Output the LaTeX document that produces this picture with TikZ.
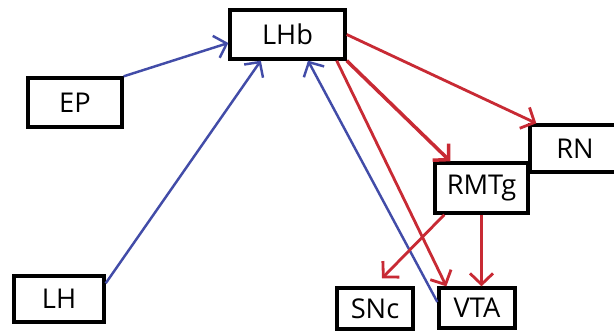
\documentclass[tikz,border=0pt]{standalone}
\usepackage{fontspec}
\setmainfont{Open Sans}
\usepackage{tikz}
\usetikzlibrary{arrows.meta}
\definecolor{inhblue}{RGB}{66,76,168}
\definecolor{excred}{RGB}{200,42,52}

\begin{document}
\begin{tikzpicture}[
    box/.style={draw, line width=1.9pt, fill=white, inner sep=0pt,
                font=\fontsize{15.5}{18}\selectfont},
    tip/.style={-{Straight Barb[length=2.2mm,width=4.6mm]}},
    inh/.style={tip, inhblue, line width=1.4pt},
    exc/.style={tip, excred, line width=1.6pt}
]
    % Cadre
    \clip (0, 0) rectangle (12.28, 6.62);
    \fill[white] (0, 0) rectangle (12.28, 6.62);

    % Boites
    \node[box, minimum width=2.30cm, minimum height=0.98cm] (LHb) at (5.75, 5.93) {LHb};
    \node[box, minimum width=1.88cm, minimum height=0.98cm] (EP) at (1.50, 4.57) {EP};
    \node[box, minimum width=1.80cm, minimum height=0.92cm] (LH) at (1.18, 0.64) {LH};
    \node[box, minimum width=1.80cm, minimum height=0.94cm] (RN) at (11.50, 3.65) {RN};
    \node[box, minimum width=1.86cm, minimum height=1.00cm] (RMTg) at (9.63, 2.86) {RMTg};
    \node[box, minimum width=1.52cm, minimum height=0.82cm] (SNc) at (7.50, 0.45) {SNc};
    \node[box, minimum width=1.52cm, minimum height=0.80cm] (VTA) at (9.54, 0.46) {VTA};

    % Entrees vers LHb
    \draw[inh] (EP.north east) -- ([yshift=-0.17cm]LHb.west);
    \draw[inh] ([yshift=-0.18cm]LH.north east) -- ([xshift=0.65cm]LHb.south west);
    \draw[inh] ([yshift=0.12cm]VTA.west) -- ([xshift=0.41cm]LHb.south);

    % Sorties de LHb
    \draw[exc] (LHb.east) -- ([xshift=0.16cm]RN.north west);
    \draw[exc, line width=2pt] (LHb.south east) -- ([xshift=0.34cm]RMTg.north west);
    \draw[exc] ([xshift=-0.2cm]LHb.south east) -- ([xshift=0.18cm]VTA.north west);

    % Sorties de RMTg
    \draw[exc] ([xshift=0.22cm]RMTg.south west) -- ([xshift=0.14cm, yshift=0.16cm]SNc.north);
    \draw[exc] (RMTg.south) -- (RMTg.south |- VTA.north);
\end{tikzpicture}
\end{document}
